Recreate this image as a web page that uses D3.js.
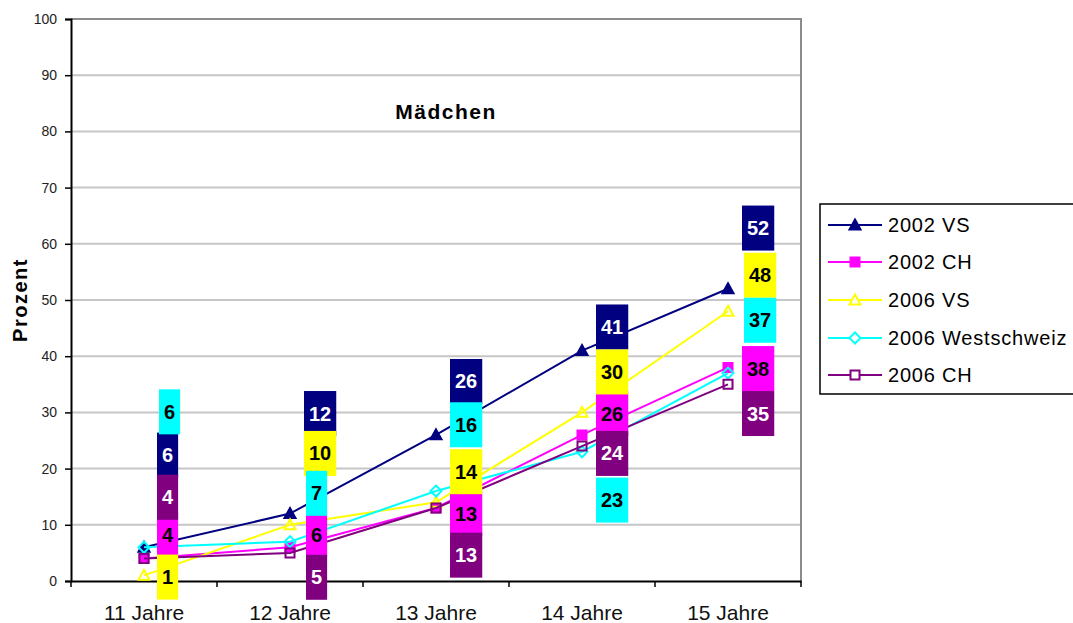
<!DOCTYPE html>
<html>
<head>
<meta charset="utf-8">
<script src="https://cdn.jsdelivr.net/npm/d3@7"></script>
<style>
  html, body { margin: 0; padding: 0; background: #fff; }
  svg { display: block; font-family: "Liberation Sans", Arial, sans-serif; }
</style>
</head>
<body>
<svg id="chart" width="1073" height="623"></svg>
<script>
// Age groups on the x axis
const categories = ["11 Jahre", "12 Jahre", "13 Jahre", "14 Jahre", "15 Jahre"];

// Percentages per survey
const vs2002   = [6, 12, 26, 41, 52];
const ch2002   = [4, 6, 13, 26, 38];
const vs2006   = [1, 10, 14, 30, 48];
const west2006 = [6, 7, 16, 23, 37];
const ch2006   = [4, 5, 13, 24, 35];

const seriesNames = ["2002 VS", "2002 CH", "2006 VS", "2006 Westschweiz", "2006 CH"];
const yTicks = [0, 10, 20, 30, 40, 50, 60, 70, 80, 90, 100];

// Where each value label box is centred (in axis units) and its left-edge shift from the category centre (px)
const labelY = [
  [22.4, 29.8, 35.5, 45.2, 62.8],
  [8.2, 8.2, 12.0, 29.8, 37.8],
  [0.7, 22.7, 19.45, 37.2, 54.4],
  [30.1, 15.6, 27.8, 14.4, 46.4],
  [14.9, 0.66, 4.6, 22.7, 29.8]
];
const labelDX = [
  [13, 14, 14, 14, 14],
  [13, 16, 14, 14, 14],
  [13, 14, 14, 14, 16],
  [15, 16, 14, 14, 16],
  [13, 16, 14, 14, 14]
];

const styles = [
  { color: "#000080", marker: "triangle", filled: true,  text: "#fff" },
  { color: "#ff00ff", marker: "square",   filled: true,  text: "#000" },
  { color: "#ffff00", marker: "triangle", filled: false, text: "#000" },
  { color: "#00ffff", marker: "diamond",  filled: false, text: "#000" },
  { color: "#800080", marker: "square",   filled: false, text: "#fff" }
];

const series = [vs2002, ch2002, vs2006, west2006, ch2006].map((values, i) => ({
  name: seriesNames[i], values, style: styles[i], labelY: labelY[i], labelDX: labelDX[i]
}));

const svg = d3.select("#chart");
const plot = { left: 71, right: 801, top: 19, bottom: 581 };

const x = d3.scaleBand().domain(categories).range([plot.left, plot.right]).paddingInner(0).paddingOuter(0);
const y = d3.scaleLinear().domain([0, 100]).range([plot.bottom, plot.top]);
const cx = c => x(c) + x.bandwidth() / 2;

// Gridlines
svg.append("g").selectAll("line").data(yTicks.filter(t => t > 0 && t < 100)).join("line")
  .attr("x1", plot.left).attr("x2", plot.right)
  .attr("y1", d => y(d)).attr("y2", d => y(d))
  .attr("stroke", "#c6c6c6").attr("stroke-width", 2);

// Plot-area border (top and right)
svg.append("path")
  .attr("d", `M${plot.left},${y(100)}H${plot.right}V${plot.bottom}`)
  .attr("fill", "none").attr("stroke", "#8c8c8c").attr("stroke-width", 2);

// Y axis
const yAxis = svg.append("g").attr("transform", `translate(${plot.left},0)`)
  .call(d3.axisLeft(y).tickValues(yTicks).tickSize(6).tickPadding(8).tickFormat(d3.format("d")));
yAxis.select(".domain").attr("stroke", "#000").attr("stroke-width", 2);
yAxis.selectAll(".tick line").attr("stroke", "#000").attr("stroke-width", 1.5);
yAxis.selectAll(".tick text").attr("font-size", 14).attr("fill", "#222")
  .attr("font-family", "'Liberation Sans', Arial, sans-serif");

// X axis
const xAxis = svg.append("g").attr("transform", `translate(0,${plot.bottom})`)
  .call(d3.axisBottom(x).tickSize(0).tickPadding(24));
xAxis.select(".domain").attr("stroke", "#000").attr("stroke-width", 2);
xAxis.selectAll(".tick text").attr("font-size", 21).attr("fill", "#111")
  .attr("font-family", "'Liberation Sans', Arial, sans-serif");
// tick marks at category boundaries
const bounds = categories.map(c => x(c)).concat([plot.right]);
svg.append("g").selectAll("line").data(bounds).join("line")
  .attr("x1", d => d).attr("x2", d => d)
  .attr("y1", plot.bottom).attr("y2", plot.bottom + 6)
  .attr("stroke", "#000").attr("stroke-width", 1.5);

// Axis title and chart title
svg.append("text")
  .attr("transform", `translate(27,300) rotate(-90)`)
  .attr("text-anchor", "middle").attr("font-size", 20).attr("font-weight", "bold")
  .attr("letter-spacing", 1.5)
  .text("Prozent");
svg.append("text")
  .attr("x", 446).attr("y", 119)
  .attr("text-anchor", "middle").attr("font-size", 21).attr("font-weight", "bold")
  .attr("letter-spacing", 1.5)
  .text("Mädchen");

// Marker path builder
function markerPath(type, px, py) {
  if (type === "triangle") {
    const r = 5.5;
    return `M${px},${py - r}L${px + r},${py + r * 0.8}L${px - r},${py + r * 0.8}Z`;
  }
  if (type === "square") {
    const r = 4.5;
    return `M${px - r},${py - r}H${px + r}V${py + r}H${px - r}Z`;
  }
  const r = 5.5;
  return `M${px},${py - r}L${px + r},${py}L${px},${py + r}L${px - r},${py}Z`;
}

// Lines and markers
const line = d3.line().x((d, i) => cx(categories[i])).y(d => y(d));
series.forEach(s => {
  const g = svg.append("g");
  g.append("path").datum(s.values).attr("d", line)
    .attr("fill", "none").attr("stroke", s.style.color).attr("stroke-width", 2);
  g.selectAll("path.m").data(s.values).join("path").attr("class", "m")
    .attr("d", (d, i) => markerPath(s.style.marker, cx(categories[i]), y(d)))
    .attr("fill", s.style.filled ? s.style.color : "none")
    .attr("stroke", s.style.color).attr("stroke-width", 2);
});

// Value label boxes
const boxH = 45, padX = 5;
series.forEach(s => {
  const g = svg.append("g");
  s.values.forEach((v, i) => {
    const left = cx(categories[i]) + s.labelDX[i];
    const mid = y(s.labelY[i]);
    const rect = g.append("rect").attr("fill", s.style.color);
    const t = g.append("text")
      .attr("font-size", 20).attr("font-weight", "bold").attr("fill", s.style.text)
      .attr("text-anchor", "middle").attr("y", mid + 7)
      .text(v);
    const w = t.node().getComputedTextLength() + padX * 2;
    rect.attr("x", left).attr("y", mid - boxH / 2).attr("width", w).attr("height", boxH);
    t.attr("x", left + w / 2);
  });
});

// Legend
const legend = svg.append("g");
legend.append("rect").attr("x", 820).attr("y", 204).attr("width", 300).attr("height", 190)
  .attr("fill", "#fff").attr("stroke", "#000").attr("stroke-width", 1.5);
const legendY = [225, 262, 300, 338, 375];
series.forEach((s, i) => {
  const ly = legendY[i];
  legend.append("line").attr("x1", 828).attr("x2", 882).attr("y1", ly).attr("y2", ly)
    .attr("stroke", s.style.color).attr("stroke-width", 2);
  legend.append("path").attr("d", markerPath(s.style.marker, 855, ly))
    .attr("fill", s.style.filled ? s.style.color : "#fff")
    .attr("stroke", s.style.color).attr("stroke-width", 2);
  legend.append("text").attr("x", 888).attr("y", ly + 7)
    .attr("font-size", 20).attr("fill", "#000").attr("letter-spacing", 0.8)
    .text(s.name);
});
</script>
</body>
</html>
